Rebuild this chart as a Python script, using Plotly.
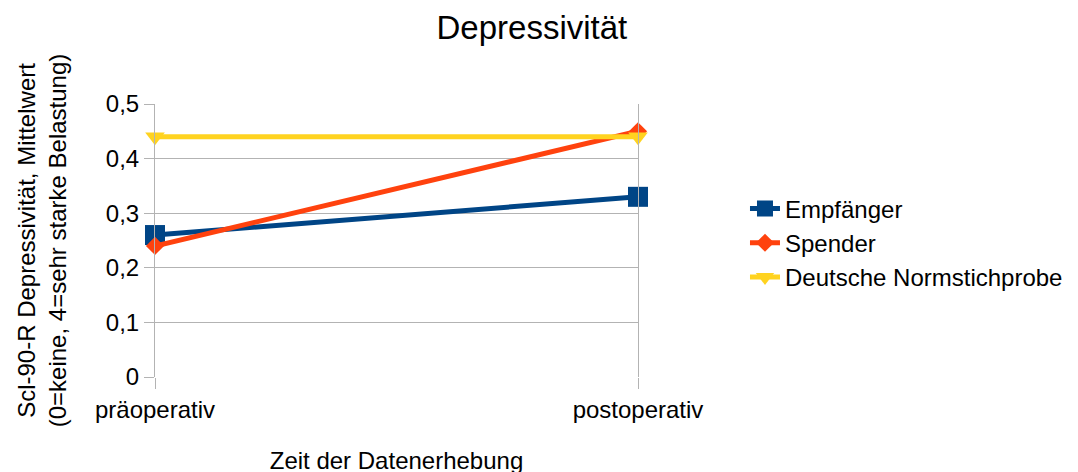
import plotly.graph_objects as go

categories = ["präoperativ", "postoperativ"]
empfaenger = [0.26, 0.33]
spender = [0.24, 0.45]
norm = [0.44, 0.44]
y_ticks = [0, 0.1, 0.2, 0.3, 0.4, 0.5]
y_tick_labels = ["0", "0,1", "0,2", "0,3", "0,4", "0,5"]

font = "Liberation Sans, Arial, sans-serif"
grid = "#b3b3b3"

fig = go.Figure()
fig.add_trace(go.Scatter(x=categories, y=empfaenger, name="Empfänger", mode="lines+markers",
                         cliponaxis=False,
                         line=dict(color="#004586", width=5),
                         marker=dict(symbol="square", size=20, color="#004586")))
fig.add_trace(go.Scatter(x=categories, y=spender, name="Spender", mode="lines+markers",
                         cliponaxis=False,
                         line=dict(color="#ff420e", width=5),
                         marker=dict(symbol="diamond", size=14, color="#ff420e")))
fig.add_trace(go.Scatter(x=categories, y=norm, name="Deutsche Normstichprobe", mode="lines+markers",
                         cliponaxis=False,
                         line=dict(color="#ffd320", width=5),
                         marker=dict(symbol="triangle-down", size=17, color="#ffd320")))

fig.update_layout(
    width=1078, height=472,
    paper_bgcolor="white", plot_bgcolor="white",
    margin=dict(l=147, r=448, t=96, b=103, autoexpand=False),
    font=dict(family=font, size=24, color="black"),
    title=dict(text="Depressivität", x=0.486, xref="container", xanchor="center",
               y=0.958, yref="container", yanchor="middle", font=dict(size=33)),
    xaxis=dict(type="category", range=[0, 1], showgrid=True, gridcolor=grid, gridwidth=1,
               ticks="outside", ticklen=11, tickcolor=grid, zeroline=False,
               title=dict(text="Zeit der Datenerhebung", standoff=30, font=dict(size=24)),
               tickfont=dict(size=24)),
    yaxis=dict(range=[0, 0.5], tickvals=y_ticks, ticktext=y_tick_labels, showgrid=True,
               gridcolor=grid, gridwidth=1, ticks="outside", ticklen=10, tickcolor=grid,
               zeroline=False, showline=True, mirror=True, linecolor=grid, linewidth=1,
               title=dict(text="Scl-90-R Depressivität, Mittelwert<br>(0=keine, 4=sehr starke Belastung)",
                          standoff=32, font=dict(size=24)),
               tickfont=dict(size=24)),
    legend=dict(x=1.2215, y=0.491, xanchor="left", yanchor="middle", font=dict(size=24),
                tracegroupgap=0, itemwidth=30, bgcolor="rgba(0,0,0,0)"),
    separators=",.",
)

fig.write_html("out.html")
